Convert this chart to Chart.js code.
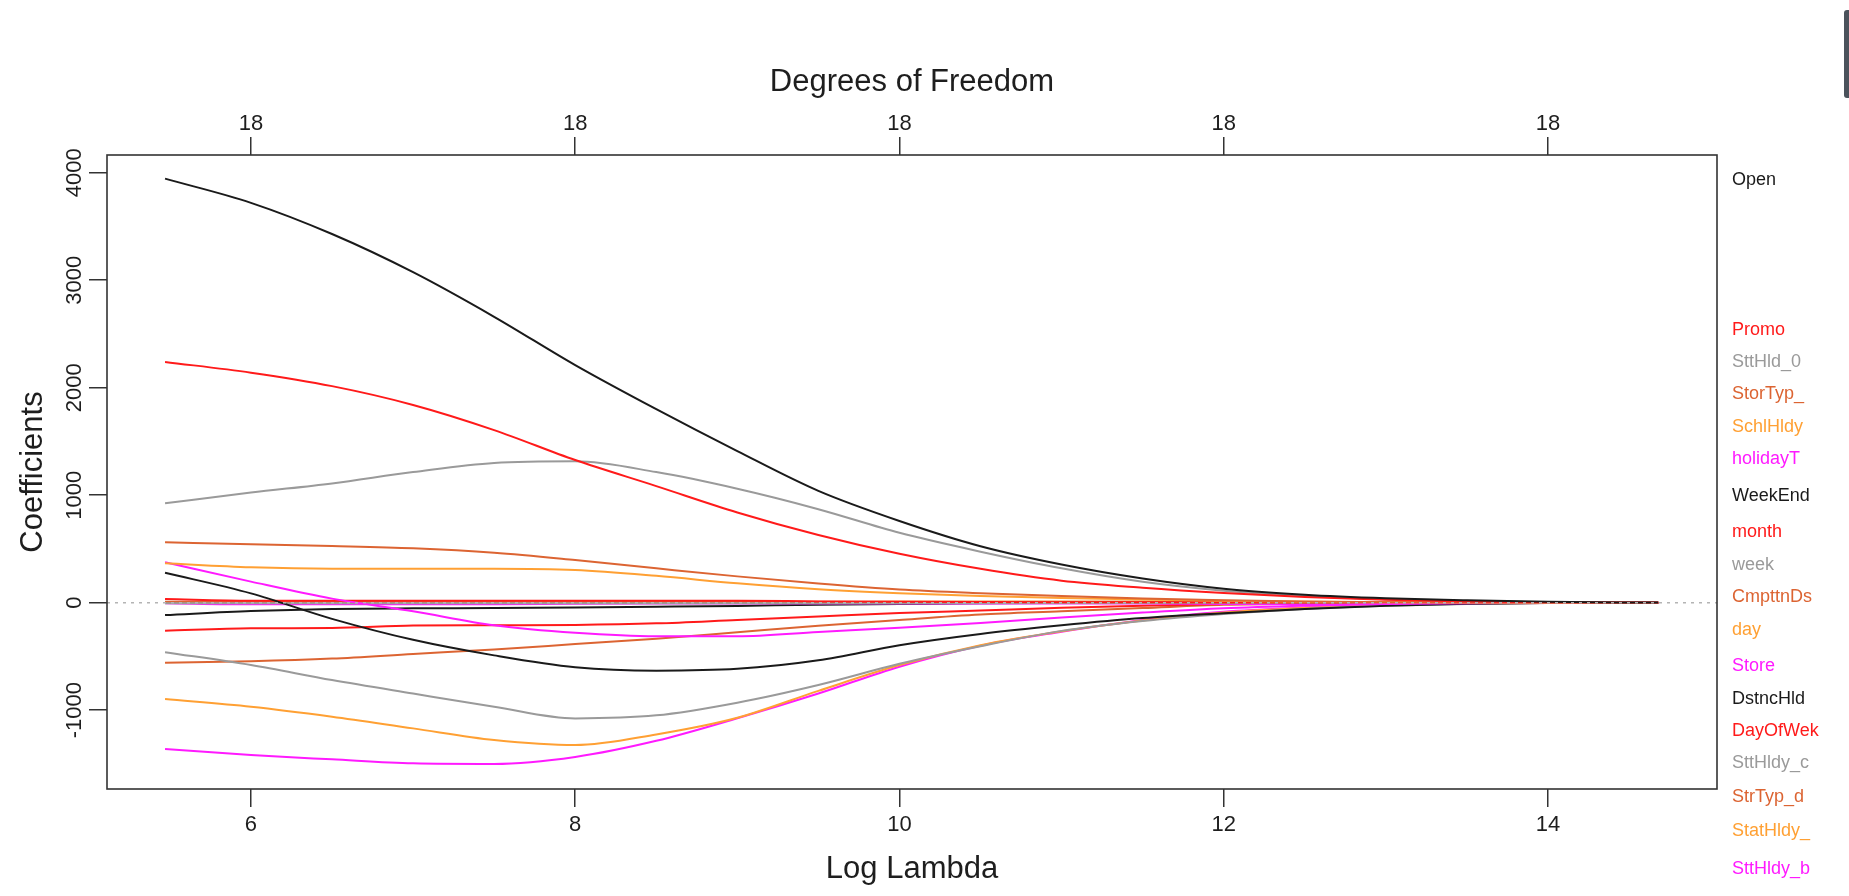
<!DOCTYPE html>
<html><head><meta charset="utf-8">
<script src="https://cdn.jsdelivr.net/npm/chart.js@4.4.1/dist/chart.umd.min.js"></script>
<style>
html,body{margin:0;padding:0;background:#fff;overflow:hidden}
#wrap{position:relative;width:1849px;height:896px}
#sb{position:absolute;left:1844px;top:10px;width:5px;height:88px;background:#4a525b;border-radius:3px 0 0 3px}
</style></head><body>
<div id="wrap"><canvas id="c"></canvas><div id="sb"></div></div>
<script>
// ---- data ----
const logLambda = [5.47, 6, 6.5, 7, 7.5, 8, 8.5, 9, 9.5, 10, 10.5, 11, 11.5, 12, 12.5, 13, 13.5, 14, 14.68];
const xTicks = [6, 8, 10, 12, 14];
const dfLabels = ['18', '18', '18', '18', '18'];
const yTicks = [-1000, 0, 1000, 2000, 3000, 4000];

const coefOpen      = [3945, 3720, 3430, 3075, 2660, 2210, 1800, 1410, 1040, 760, 525, 355, 225, 130, 75, 42, 22, 8, 1];
const coefPromo     = [2240, 2140, 2015, 1840, 1606, 1327, 1085, 840, 630, 455, 315, 205, 140, 90, 52, 28, 12, 4, 1];
const coefSttHld0   = [925, 1025, 1110, 1215, 1300, 1315, 1215, 1060, 870, 650, 475, 320, 195, 112, 62, 32, 14, 4, 1];
const coefStorTyp   = [562, 543, 527, 506, 465, 397, 320, 245, 178, 122, 88, 62, 40, 24, 12, 5, 2, 1, 0];
const coefSchlHldy  = [366, 329, 316, 316, 316, 304, 250, 180, 125, 88, 62, 45, 30, 18, 9, 4, 1, 0, 0];
const coefHolidayT  = [376, 196, 38, -80, -210, -280, -312, -312, -272, -234, -188, -138, -92, -52, -28, -12, -4, -1, 0];
const coefWeekEnd   = [279, 87, -150, -345, -490, -600, -632, -615, -535, -395, -290, -210, -143, -98, -58, -28, -10, -3, 0];
const coefMonth     = [34, 19, 19, 19, 19, 19, 19, 19, 12, 8, 6, 5, 4, 3, 2, 1, 0, 0, 0];
const coefWeek      = [-5, -5, -6, -6, -6, -6, -6, -5, -5, -4, -3, -3, -2, -2, -1, -1, 0, 0, 0];
const coefCmpttnDs  = [8, 8, 8, 8, 8, 8, 8, 8, 8, 8, 8, 8, 8, 7, 5, 3, 1, 0, 0];
const coefDay       = [5, 5, 5, 5, 5, 5, 5, 5, 6, 8, 9, 10, 10, 9, 6, 3, 1, 0, 0];
const coefStore     = [-5, -15, -15, -15, -15, -10, -8, -8, -8, -8, -8, -8, -8, -12, -15, -8, -3, -1, 0];
const coefDstncHld  = [-115, -78, -58, -52, -50, -45, -38, -30, -18, -12, -6, -3, -1, 0, 0, 0, 0, 0, 0];
const coefDayOfWek  = [-260, -238, -235, -213, -210, -207, -192, -160, -128, -96, -72, -47, -28, -12, -5, -1, 0, 0, 0];
const coefSttHldyC  = [-460, -580, -720, -845, -967, -1076, -1048, -930, -765, -568, -405, -262, -170, -105, -58, -28, -11, -3, 0];
const coefStrTypD   = [-558, -545, -520, -477, -435, -385, -335, -275, -215, -160, -110, -80, -50, -20, -8, -2, 0, 0, 0];
const coefStatHldy  = [-896, -967, -1060, -1169, -1277, -1324, -1225, -1070, -820, -580, -395, -265, -165, -90, -48, -22, -8, -2, 0];
const coefSttHldyB  = [-1361, -1417, -1457, -1494, -1500, -1435, -1285, -1075, -845, -595, -400, -270, -160, -84, -45, -20, -8, -2, 0];

const varNames = ['Open', 'Promo', 'SttHld_0', 'StorTyp_', 'SchlHldy', 'holidayT', 'WeekEnd', 'month', 'week',
                  'CmpttnDs', 'day', 'Store', 'DstncHld', 'DayOfWek', 'SttHldy_c', 'StrTyp_d', 'StatHldy_', 'SttHldy_b'];
// right-margin label positions (in coefficient units, spread apart as in the original)
const labelPos = [3930, 2537, 2242, 1941, 1631, 1337, 988, 660, 351, 53, -254, -586, -896, -1193, -1491, -1808, -2124, -2477];
const palette = ['#1a1a1a', '#ff1a1a', '#9a9a9a', '#dc6432', '#ffa033', '#ff1aff'];
// ---- end data ----

const seriesList = [coefOpen, coefPromo, coefSttHld0, coefStorTyp, coefSchlHldy, coefHolidayT, coefWeekEnd, coefMonth,
  coefWeek, coefCmpttnDs, coefDay, coefStore, coefDstncHld, coefDayOfWek, coefSttHldyC, coefStrTypD, coefStatHldy, coefSttHldyB];
const varColors = varNames.map((_, i) => palette[i % palette.length]);

const FAM = '"Liberation Sans", Arial, Helvetica, sans-serif';
const tickFont = {family: FAM, size: 22};
const titleFont = {family: FAM, size: 31};
const labelFontPx = 18;

const mctx = document.createElement('canvas').getContext('2d');
mctx.font = '22px ' + FAM;
const widest = Math.max(...yTicks.map(v => mctx.measureText(String(v)).width));
const TL = 18;
const yPad = (107 - TL - 75) - widest / 2;

const datasets = seriesList.map((arr, i) => ({
  label: varNames[i],
  data: arr.map((v, j) => ({x: logLambda[j], y: v})),
  borderColor: varColors[i],
  borderWidth: 2,
  pointRadius: 0,
  fill: false,
  cubicInterpolationMode: 'monotone'
}));

const gridOpts = {drawOnChartArea: false, drawTicks: true, tickLength: TL, color: '#333', lineWidth: 1.5};

const rPlot = {
  id: 'rPlot',
  afterDatasetsDraw(chart) {
    const {ctx, chartArea: a, scales: {y}} = chart;
    const y0 = y.getPixelForValue(0);
    ctx.save();
    ctx.setLineDash([3, 5]);
    ctx.strokeStyle = '#b4b4b4';
    ctx.lineWidth = 1.5;
    ctx.beginPath(); ctx.moveTo(a.left, y0); ctx.lineTo(a.right, y0); ctx.stroke();
    ctx.setLineDash([]);
    ctx.strokeStyle = '#333';
    ctx.lineWidth = 1.6;
    ctx.strokeRect(a.left, a.top, a.right - a.left, a.bottom - a.top);
    ctx.font = labelFontPx + 'px ' + FAM;
    ctx.textBaseline = 'middle';
    ctx.textAlign = 'left';
    varNames.forEach((n, i) => {
      ctx.fillStyle = varColors[i];
      ctx.fillText(n, a.right + 15, y.getPixelForValue(labelPos[i]));
    });
    ctx.restore();
  }
};

new Chart(document.getElementById('c'), {
  type: 'line',
  data: {datasets},
  plugins: [rPlot],
  options: {
    responsive: true,
    maintainAspectRatio: false,
    animation: false,
    layout: {padding: {left: 0, right: 132, top: 0, bottom: 0}},
    plugins: {legend: {display: false}, tooltip: {enabled: false}},
    scales: {
      x: {
        type: 'linear', position: 'bottom', min: 5.112, max: 15.043,
        afterBuildTicks: s => { s.ticks = xTicks.map(v => ({value: v})); },
        afterFit: s => { s.height = 107; },
        ticks: {autoSkip: false, maxRotation: 0, padding: 5, font: tickFont, color: '#1e1e1e', callback: v => String(v)},
        grid: gridOpts, border: {display: false},
        title: {display: true, text: 'Log Lambda', font: titleFont, color: '#1e1e1e', padding: {top: 0, bottom: 8}}
      },
      x2: {
        type: 'linear', position: 'top', min: 5.112, max: 15.043,
        afterBuildTicks: s => { s.ticks = xTicks.map(v => ({value: v})); },
        afterFit: s => { s.height = 155; },
        ticks: {autoSkip: false, maxRotation: 0, padding: 0, font: tickFont, color: '#1e1e1e', callback: (v, i) => dfLabels[i]},
        grid: gridOpts, border: {display: false},
        title: {display: true, text: 'Degrees of Freedom', font: titleFont, color: '#1e1e1e', padding: {top: 64, bottom: 0}}
      },
      y: {
        type: 'linear', position: 'left', min: -1733, max: 4165,
        afterBuildTicks: s => { s.ticks = yTicks.map(v => ({value: v})); },
        afterFit: s => { s.width = 107; },
        ticks: {autoSkip: false, minRotation: 90, maxRotation: 90, crossAlign: 'center', padding: yPad,
                font: tickFont, color: '#1e1e1e', callback: v => String(v)},
        grid: gridOpts, border: {display: false},
        title: {display: true, text: 'Coefficients', font: titleFont, color: '#1e1e1e', padding: {top: 15, bottom: 0}}
      }
    }
  }
});
</script>
</body></html>
